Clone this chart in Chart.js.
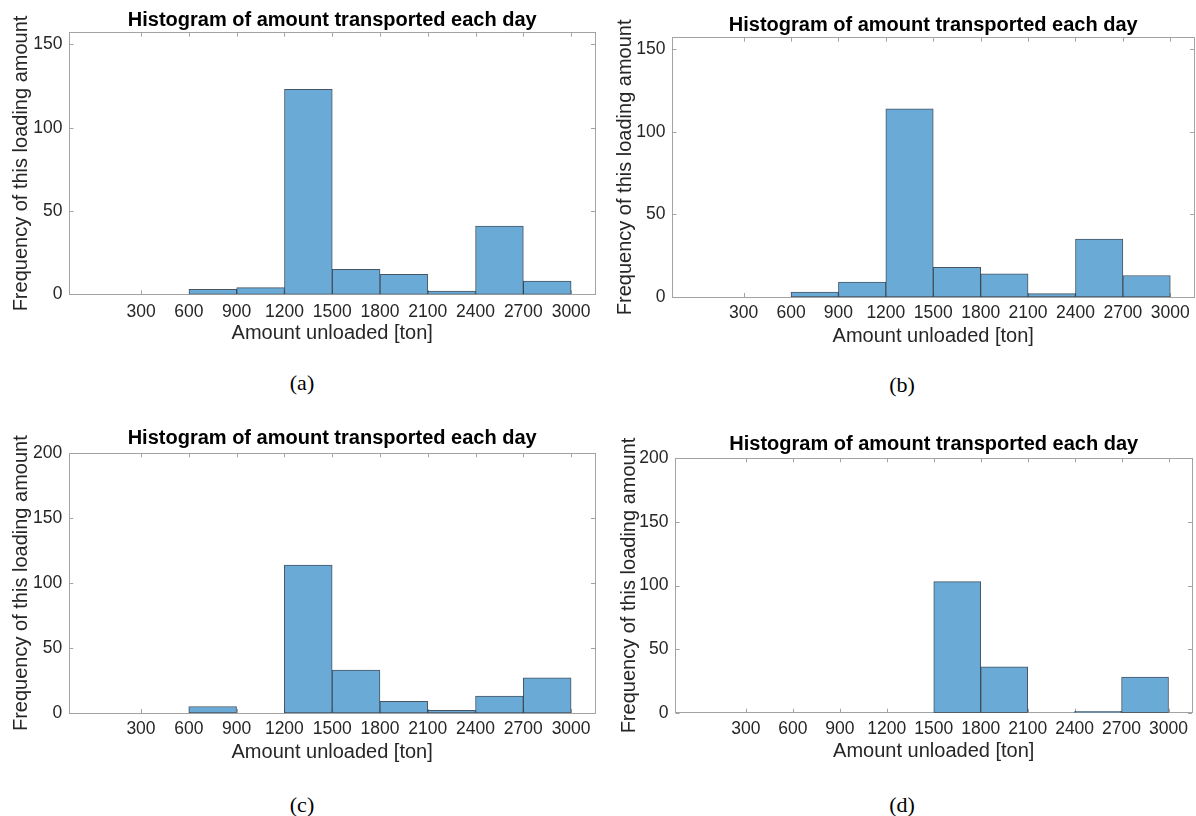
<!DOCTYPE html>
<html>
<head>
<meta charset="utf-8">
<script src="https://cdn.jsdelivr.net/npm/chart.js@4.4.1/dist/chart.umd.min.js"></script>
<style>
  body { margin: 0; background: #fff; width: 1196px; height: 816px; position: relative; overflow: hidden; }
  .panel { position: absolute; width: 598px; height: 360px; }
  .cap { position: absolute; font-family: "Liberation Serif", "DejaVu Serif", serif; font-size: 22px; color: #000; transform: translate(-50%, -50%); }
</style>
</head>
<body>
<div class="panel" style="left:0;top:0"><canvas id="cA" width="598" height="360"></canvas></div>
<div class="panel" style="left:598px;top:0"><canvas id="cB" width="598" height="360"></canvas></div>
<div class="panel" style="left:0;top:410px"><canvas id="cC" width="598" height="360"></canvas></div>
<div class="panel" style="left:598px;top:410px"><canvas id="cD" width="598" height="360"></canvas></div>
<div class="cap" style="left:302px;top:383px">(a)</div>
<div class="cap" style="left:902px;top:385px">(b)</div>
<div class="cap" style="left:302px;top:805px">(c)</div>
<div class="cap" style="left:902px;top:805px">(d)</div>
<script>
// histogram bins (centres of 300 t wide bins) and counts per case
const binCenters = [150, 450, 750, 1050, 1350, 1650, 1950, 2250, 2550, 2850];
const countsA = [0, 0, 3, 4, 123, 15, 12, 2, 41, 8];
const countsB = [0, 0, 3, 9, 114, 18, 14, 2, 35, 13];
const countsC = [0, 0, 5, 0, 114, 33, 9, 2, 13, 27];
const countsD = [0, 0, 0, 0, 0, 103, 36, 0, 1, 28];

const xTicks = [300, 600, 900, 1200, 1500, 1800, 2100, 2400, 2700, 3000];
const yTicksAB = [0, 50, 100, 150];
const yTicksCD = [0, 50, 100, 150, 200];
const xMin = -150, xMax = 3150;

const chartTitle = "Histogram of amount transported each day";
const xTitle = "Amount unloaded [ton]";
const yTitle = "Frequency of this loading amount";

const FONT = "'Liberation Sans', Arial, Helvetica, sans-serif";
const AXIS = "#a3a3a3";
const TXT = "#262626";
const W = 598, H = 360;

// inner tick marks on all four sides, like the matlab box
const innerTicks = {
  id: "innerTicks",
  beforeDatasetsDraw(chart) {
    const { ctx, chartArea: a, scales: { x, y } } = chart;
    ctx.save();
    ctx.strokeStyle = AXIS;
    ctx.lineWidth = 1;
    ctx.beginPath();
    x.ticks.forEach(t => {
      const px = Math.round(x.getPixelForValue(t.value)) + 0.5;
      ctx.moveTo(px, a.top); ctx.lineTo(px, a.top + 4);
      ctx.moveTo(px, a.bottom); ctx.lineTo(px, a.bottom - 4);
    });
    y.ticks.forEach(t => {
      const py = Math.round(y.getPixelForValue(t.value)) + 0.5;
      ctx.moveTo(a.left, py); ctx.lineTo(a.left + 4, py);
      ctx.moveTo(a.right, py); ctx.lineTo(a.right - 4, py);
    });
    ctx.stroke();
    ctx.restore();
  }
};

function makePanel(id, counts, yMax, yTicks, g) {
  const xH = g.xLabY - g.B + 12;
  const tickFont = { family: FONT, size: 17.5 };
  const labFont = { family: FONT, size: 20 };
  new Chart(document.getElementById(id), {
    type: "bar",
    data: {
      datasets: [{
        data: binCenters.map((c, i) => ({ x: c, y: counts[i] })),
        backgroundColor: "#6aaad6",
        borderColor: "rgba(40,55,70,0.85)",
        borderWidth: 1,
        borderSkipped: false,
        barPercentage: 1,
        categoryPercentage: 1
      }]
    },
    options: {
      responsive: false,
      animation: false,
      devicePixelRatio: 1,
      layout: { autoPadding: false, padding: { left: 0, top: 0, right: W - g.R, bottom: H - g.B - xH } },
      plugins: {
        legend: { display: false },
        tooltip: { enabled: false },
        title: {
          display: true, text: chartTitle, fullSize: false, color: "#000",
          font: { family: FONT, size: 20, weight: "bold" },
          padding: { top: g.titleY - 12, bottom: g.T - g.titleY - 12 }
        }
      },
      scales: {
        x: {
          type: "linear", min: xMin, max: xMax, offset: false,
          grid: { display: false, offset: false, drawTicks: false },
          border: { display: true, color: AXIS },
          afterBuildTicks: s => { s.ticks = xTicks.map(v => ({ value: v })); },
          ticks: { font: tickFont, color: TXT, padding: g.xTickY - g.B - 10.5, maxRotation: 0, autoSkip: false, callback: v => String(v) },
          title: { display: true, text: xTitle, font: labFont, color: TXT, padding: { top: 0, bottom: 0 } },
          afterFit: s => { s.height = xH; }
        },
        x2: {
          type: "linear", position: "top", min: xMin, max: xMax, offset: false,
          grid: { display: false, drawTicks: false },
          border: { display: true, color: AXIS },
          ticks: { display: false },
          afterFit: s => { s.height = 0; }
        },
        y: {
          type: "linear", min: 0, max: yMax,
          grid: { display: false, drawTicks: false },
          border: { display: true, color: AXIS },
          afterBuildTicks: s => { s.ticks = yTicks.map(v => ({ value: v })); },
          ticks: { font: tickFont, color: TXT, padding: 7, callback: v => String(v) },
          title: { display: true, text: yTitle, font: labFont, color: TXT, padding: { top: g.yLabX - 12, bottom: 0 } },
          afterFit: s => { s.width = g.L; }
        },
        y2: {
          type: "linear", position: "right", min: 0, max: yMax,
          grid: { display: false, drawTicks: false },
          border: { display: true, color: AXIS },
          ticks: { display: false },
          afterFit: s => { s.width = 0; }
        }
      }
    },
    plugins: [innerTicks]
  });
}

makePanel("cA", countsA, 157, yTicksAB, { L: 69.5, R: 595, T: 32.7, B: 294.3, titleY: 20, yLabX: 21, xTickY: 311.7, xLabY: 333 });
makePanel("cB", countsB, 157, yTicksAB, { L: 74.5, R: 596, T: 37.7, B: 297, titleY: 25, yLabX: 27, xTickY: 313.3, xLabY: 336 });
makePanel("cC", countsC, 200, yTicksCD, { L: 69.3, R: 595, T: 43.3, B: 303, titleY: 28.3, yLabX: 21, xTickY: 319.3, xLabY: 342.3 });
makePanel("cD", countsD, 200, yTicksCD, { L: 77.5, R: 594, T: 48.3, B: 302.7, titleY: 34.3, yLabX: 31, xTickY: 319.3, xLabY: 341.7 });
</script>
</body>
</html>
